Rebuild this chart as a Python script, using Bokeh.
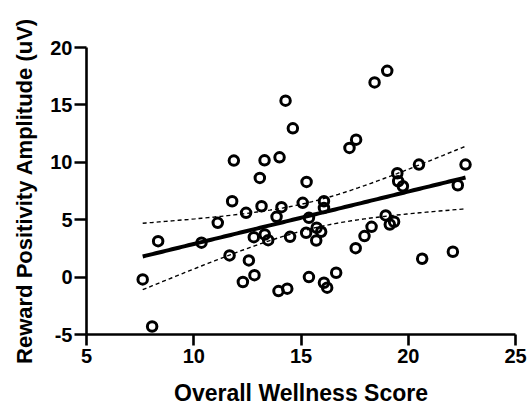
import numpy as np
from bokeh.plotting import figure
from bokeh.models import Range1d, FixedTicker
from bokeh.embed import file_html
from bokeh.resources import INLINE

# Data
wellness = [7.62, 8.34, 8.06, 10.36, 11.12,
            13.08, 15.26, 11.79, 13.16, 14.09, 15.08, 16.07, 16.07, 12.44, 13.86,
            15.37, 13.31, 12.80, 13.47, 14.49, 15.24, 15.73, 15.94, 15.71, 17.55,
            11.67, 12.57, 12.83, 12.29, 13.95, 14.36, 15.37, 16.07, 16.22, 16.64,
            14.28, 14.62, 11.87, 13.30, 14.00, 17.26, 17.57,
            18.43, 19.02, 19.49, 20.50, 22.67,
            19.53, 19.75, 22.31, 18.95, 19.14, 19.34, 18.29, 17.96, 20.65, 22.08]
amplitude = [-0.2, 3.13, -4.3, 3.0, 4.73,
             8.64, 8.29, 6.61, 6.17, 6.09, 6.47, 6.61, 6.03, 5.6, 5.25,
             5.16, 3.71, 3.48, 3.22, 3.51, 3.86, 4.3, 3.95, 3.19, 2.52,
             1.89, 1.45, 0.17, -0.43, -1.22, -1.01, 0.0, -0.49, -0.92, 0.38,
             15.37, 12.96, 10.15, 10.17, 10.43, 11.25, 11.97,
             16.96, 17.97, 9.05, 9.8, 9.8,
             8.35, 7.91, 8.0, 5.37, 4.58, 4.82, 4.38, 3.57, 1.6, 2.21]
x_ticks = [5, 10, 15, 20, 25]
y_ticks = [-5, 0, 5, 10, 15, 20]
y_tick_labels = ["-5", "0", "5", "10", "15", "20"]
t_crit = 2.005  # 95% two-sided, df = n - 2

x = np.array(wellness)
y = np.array(amplitude)
n = len(x)
slope, intercept = np.polyfit(x, y, 1)
xs = np.linspace(x.min(), x.max(), 100)
fit = intercept + slope * xs
resid = y - (intercept + slope * x)
s = np.sqrt(np.sum(resid ** 2) / (n - 2))
se = s * np.sqrt(1.0 / n + (xs - x.mean()) ** 2 / np.sum((x - x.mean()) ** 2))
upper = fit + t_crit * se
lower = fit - t_crit * se

FONT = "Liberation Sans"

p = figure(width=530, height=408, output_backend="svg", toolbar_location=None,
           x_range=Range1d(5, 25), y_range=Range1d(-5, 20),
           min_border_left=86, min_border_right=15, min_border_top=47,
           min_border_bottom=73)
p.outline_line_color = None
p.grid.visible = False
p.background_fill_color = "white"
p.border_fill_color = "white"

p.line(xs, upper, line_color="black", line_width=1.4, line_dash="4 3")
p.line(xs, lower, line_color="black", line_width=1.4, line_dash="4 3")
p.line(xs, fit, line_color="black", line_width=4)
p.scatter(x, y, size=9.5, fill_color=None, line_color="black", line_width=3)

for ax in (p.xaxis, p.yaxis):
    ax.axis_line_width = 2.6
    ax.axis_line_color = "black"
    ax.major_tick_line_width = 2.6
    ax.major_tick_line_color = "black"
    ax.major_tick_in = 0
    ax.minor_tick_line_color = None
    ax.major_label_text_font = FONT
    ax.major_label_text_font_style = "bold"
    ax.major_label_text_font_size = "20px"
    ax.major_label_text_color = "black"
    ax.axis_label_text_font = FONT
    ax.axis_label_text_font_style = "bold"
    ax.axis_label_text_color = "black"

p.xaxis.major_tick_out = 11
p.yaxis.major_tick_out = 12
p.xaxis.axis_label_text_font_size = "23px"
p.yaxis.axis_label_text_font_size = "22px"
p.xaxis.ticker = FixedTicker(ticks=x_ticks)
p.yaxis.ticker = FixedTicker(ticks=y_ticks)
p.yaxis.major_label_overrides = {t: lab for t, lab in zip(y_ticks, y_tick_labels)}
p.xaxis.axis_label = "Overall Wellness Score"
p.yaxis.axis_label = "Reward Positivity Amplitude (uV)"
p.xaxis.major_label_standoff = 3
p.yaxis.major_label_standoff = 2
p.xaxis.axis_label_standoff = 14
p.yaxis.axis_label_standoff = 10

open("out.html", "w").write(file_html(p, INLINE))
